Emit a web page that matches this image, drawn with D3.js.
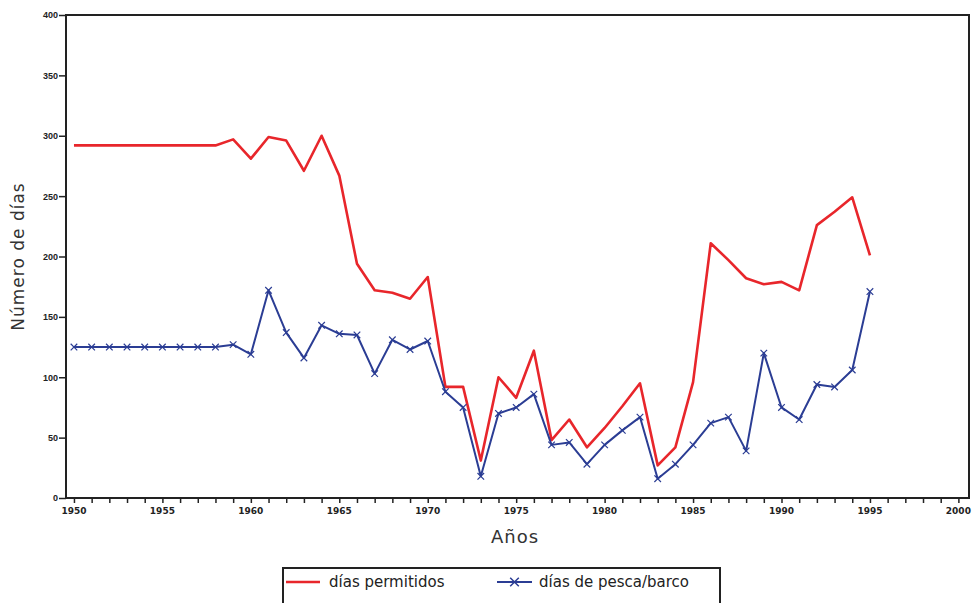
<!DOCTYPE html>
<html>
<head>
<meta charset="utf-8">
<script src="https://cdn.jsdelivr.net/npm/d3@7"></script>
<style>
  body { margin: 0; background: #fff; }
  svg { display: block; font-family: "DejaVu Sans", sans-serif; }
</style>
</head>
<body>
<div id="chart"></div>
<script>
// years and the two series
const years = d3.range(1950, 1996);
const diasPermitidos = [
  292, 292, 292, 292, 292, 292, 292, 292, 292, 297,
  281, 299, 296, 271, 300, 267, 194, 172, 170, 165,
  183, 92, 92, 31, 100, 83, 122, 48, 65, 42,
  58, 76, 95, 27, 42, 96, 211, 197, 182, 177,
  179, 172, 226, 237, 249, 201
];
const diasPesca = [
  125, 125, 125, 125, 125, 125, 125, 125, 125, 127,
  119, 172, 137, 116, 143, 136, 135, 103, 131, 123,
  130, 88, 75, 18, 70, 75, 86, 44, 46, 28,
  44, 56, 67, 16, 28, 44, 62, 67, 39, 120,
  75, 65, 94, 92, 106, 171
];
const xTicks = d3.range(1950, 2001, 5);
const yTicks = d3.range(0, 401, 50);

const W = 978, H = 603;
const m = {top: 15, right: 9, bottom: 106, left: 66};

const svg = d3.select("#chart").append("svg")
  .attr("width", W)
  .attr("height", H);

const x = d3.scaleLinear()
  .domain([1949.55, 2000.6])
  .range([m.left, W - m.right]);
const y = d3.scaleLinear()
  .domain([0, 400])
  .range([H - m.bottom + 1, m.top]);

// frame
svg.append("rect")
  .attr("x", m.left).attr("y", m.top)
  .attr("width", W - m.right - m.left)
  .attr("height", y(0) - m.top)
  .attr("fill", "none")
  .attr("stroke", "#222")
  .attr("stroke-width", 2);

// x axis: yearly ticks, labels every 5
const xAxis = svg.append("g")
  .attr("transform", "translate(0," + y(0) + ")")
  .call(d3.axisBottom(x).tickValues(years.concat(d3.range(1996, 2001))).tickSize(5).tickFormat(""));
xAxis.select(".domain").remove();
xAxis.selectAll("line").attr("stroke", "#222").attr("stroke-width", 1.5);

svg.append("g")
  .selectAll("text")
  .data(xTicks)
  .enter()
  .append("text")
  .attr("x", d => x(d))
  .attr("y", y(0) + 16)
  .attr("text-anchor", "middle")
  .attr("font-size", 9)
  .attr("font-weight", "bold")
  .attr("fill", "#222")
  .text(d => d);

// y axis
const yAxis = svg.append("g")
  .attr("transform", "translate(" + m.left + ",0)")
  .call(d3.axisLeft(y).tickValues(yTicks).tickSize(7).tickPadding(1));
yAxis.select(".domain").remove();
yAxis.selectAll("line").attr("stroke", "#222").attr("stroke-width", 1.5);
yAxis.selectAll("text")
  .attr("font-size", 9)
  .attr("font-weight", "bold")
  .attr("fill", "#222");

// lines
const line = (vals) => d3.line()
  .x((d, i) => x(years[i]))
  .y(d => y(d))(vals);

svg.append("path")
  .attr("d", line(diasPermitidos))
  .attr("fill", "none")
  .attr("stroke", "#e8262b")
  .attr("stroke-width", 2.6)
  .attr("stroke-linejoin", "round");

svg.append("path")
  .attr("d", line(diasPesca))
  .attr("fill", "none")
  .attr("stroke", "#2b3d94")
  .attr("stroke-width", 2)
  .attr("stroke-linejoin", "round");

// x markers
const cross = d3.symbol().type(d3.symbolX).size(30);
svg.append("g")
  .selectAll("path")
  .data(diasPesca)
  .enter()
  .append("path")
  .attr("d", cross)
  .attr("transform", (d, i) => "translate(" + x(years[i]) + "," + y(d) + ")")
  .attr("fill", "none")
  .attr("stroke", "#2b3d94")
  .attr("stroke-width", 1.2);

// axis titles
svg.append("text")
  .attr("transform", "translate(24," + ((m.top + y(0)) / 2) + ") rotate(-90)")
  .attr("text-anchor", "middle")
  .attr("font-size", 17)
  .attr("letter-spacing", 1)
  .attr("fill", "#333")
  .text("Número de días");

svg.append("text")
  .attr("x", 515)
  .attr("y", 543)
  .attr("text-anchor", "middle")
  .attr("font-size", 18)
  .attr("letter-spacing", 1)
  .attr("fill", "#333")
  .text("Años");

// legend
const legend = svg.append("g").attr("id", "legend");
legend.append("rect")
  .attr("x", 283).attr("y", 568)
  .attr("width", 437).attr("height", 45)
  .attr("fill", "none")
  .attr("stroke", "#222")
  .attr("stroke-width", 2);

legend.append("line")
  .attr("x1", 286).attr("x2", 320)
  .attr("y1", 582).attr("y2", 582)
  .attr("stroke", "#e8262b")
  .attr("stroke-width", 2.6);
legend.append("text")
  .attr("x", 329).attr("y", 587)
  .attr("font-size", 15)
  .attr("fill", "#222")
  .text("días permitidos");

legend.append("line")
  .attr("x1", 497).attr("x2", 532)
  .attr("y1", 582).attr("y2", 582)
  .attr("stroke", "#2b3d94")
  .attr("stroke-width", 2);
legend.append("path")
  .attr("d", d3.symbol().type(d3.symbolX).size(50))
  .attr("transform", "translate(514.5,582)")
  .attr("fill", "none")
  .attr("stroke", "#2b3d94")
  .attr("stroke-width", 1.5);
legend.append("text")
  .attr("x", 539).attr("y", 587)
  .attr("font-size", 15)
  .attr("fill", "#222")
  .text("días de pesca/barco");
</script>
</body>
</html>
